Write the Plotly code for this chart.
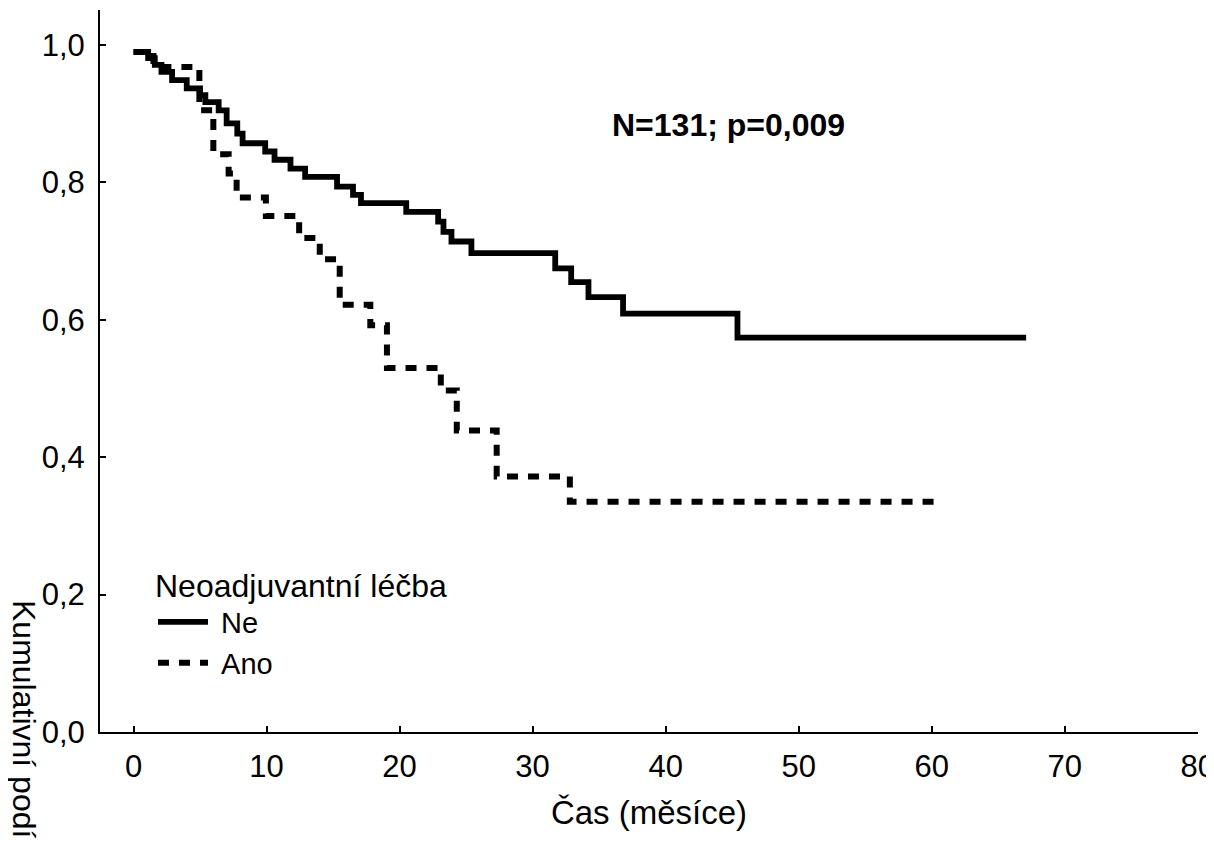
import plotly.graph_objects as go

# Kaplan-Meier curves
ne_t = [0, 1.1, 1.6, 2.1, 2.9, 4.0, 5.0, 5.4, 6.4, 7.0, 7.8, 8.2, 9.9, 10.6, 11.8, 12.9,
        15.3, 16.5, 17.1, 20.5, 22.9, 23.3, 23.9, 25.4, 31.7, 32.9, 34.2, 36.8, 45.4, 67.1]
ne_s = [0.990, 0.981, 0.971, 0.961, 0.949, 0.937, 0.927, 0.917, 0.905, 0.886, 0.871, 0.857,
        0.845, 0.833, 0.820, 0.808, 0.794, 0.782, 0.770, 0.757, 0.743, 0.728, 0.714, 0.697,
        0.675, 0.655, 0.633, 0.609, 0.574, 0.574]

ano_t = [0, 1.5, 4.95, 6.0, 7.15, 7.75, 9.95, 12.45, 14.0, 15.5, 17.8, 19.05, 23.1, 24.3,
         27.3, 32.8, 60.4]
ano_s = [0.990, 0.968, 0.905, 0.841, 0.813, 0.778, 0.751, 0.719, 0.688, 0.622, 0.592, 0.530,
         0.497, 0.439, 0.372, 0.335, 0.335]

series_names = ["\u00a0Ne", "\u00a0Ano"]
legend_title = "Neoadjuvantní léčba"
x_title = "Čas (měsíce)"
y_title = "Kumulativní podíl přežívajících"
stat_text = "<b>N=131; p=0,009</b>"

x_ticks = [0, 10, 20, 30, 40, 50, 60, 70, 80]
x_ticktext = ["0", "10", "20", "30", "40", "50", "60", "70", "80"]
y_ticks = [0.0, 0.2, 0.4, 0.6, 0.8, 1.0]
y_ticktext = ["0,0", "0,2", "0,4", "0,6", "0,8", "1,0"]

FONT = "Arial, 'Liberation Sans', sans-serif"

fig = go.Figure()
fig.add_trace(go.Scatter(
    x=ne_t, y=ne_s, mode="lines", name=series_names[0],
    line=dict(shape="hv", color="black", width=5.8),
))
fig.add_trace(go.Scatter(
    x=ano_t, y=ano_s, mode="lines", name=series_names[1],
    line=dict(shape="hv", color="black", width=6, dash="11px,10px"),
))

# plot area (page pixels): x 100..1198, y 10..732 ; page body has 8px margin
PW, PH = 1098, 722

fig.add_annotation(
    text=stat_text, xref="paper", yref="paper", x=(728 - 100) / PW, y=(732 - 125) / PH,
    xanchor="center", yanchor="middle", showarrow=False,
    font=dict(family=FONT, size=32, color="black"),
)
fig.add_annotation(
    text=y_title, xref="paper", yref="paper", x=(24 - 100) / PW, y=(732 - 598) / PH,
    xanchor="center", yanchor="top", showarrow=False, textangle=90,
    font=dict(family=FONT, size=32, color="black"),
)

fig.update_layout(
    width=1206, height=832,
    margin=dict(l=92, r=16, t=2, b=108),
    paper_bgcolor="white", plot_bgcolor="white",
    font=dict(family=FONT, size=31, color="black"),
    showlegend=True,
    legend=dict(
        title=dict(text=legend_title, font=dict(family=FONT, size=32, color="black")),
        font=dict(family=FONT, size=29, color="black"),
        x=(153 - 100) / PW, y=(732 - 555) / PH, xanchor="left", yanchor="top",
        bgcolor="rgba(0,0,0,0)", itemwidth=50, tracegroupgap=0,
    ),
    xaxis=dict(
        range=[-2.52, 80.02], tickvals=x_ticks, ticktext=x_ticktext,
        showline=True, linecolor="black", linewidth=2, mirror=False,
        ticks="inside", ticklen=6, tickwidth=2, tickcolor="black",
        showgrid=False, zeroline=False, ticklabelstandoff=6,
        ticklabeloverflow="allow",
        title=dict(text=x_title, standoff=18, font=dict(family=FONT, size=33)),
        tickfont=dict(family=FONT, size=31, color="black"),
        automargin=False,
    ),
    yaxis=dict(
        range=[0, 1.051], tickvals=y_ticks, ticktext=y_ticktext,
        showline=True, linecolor="black", linewidth=2, mirror=False,
        ticks="inside", ticklen=6, tickwidth=2, tickcolor="black",
        showgrid=False, zeroline=False, ticklabelstandoff=7,
        tickfont=dict(family=FONT, size=31, color="black"),
        automargin=False,
    ),
)

fig.write_html("out.html")
